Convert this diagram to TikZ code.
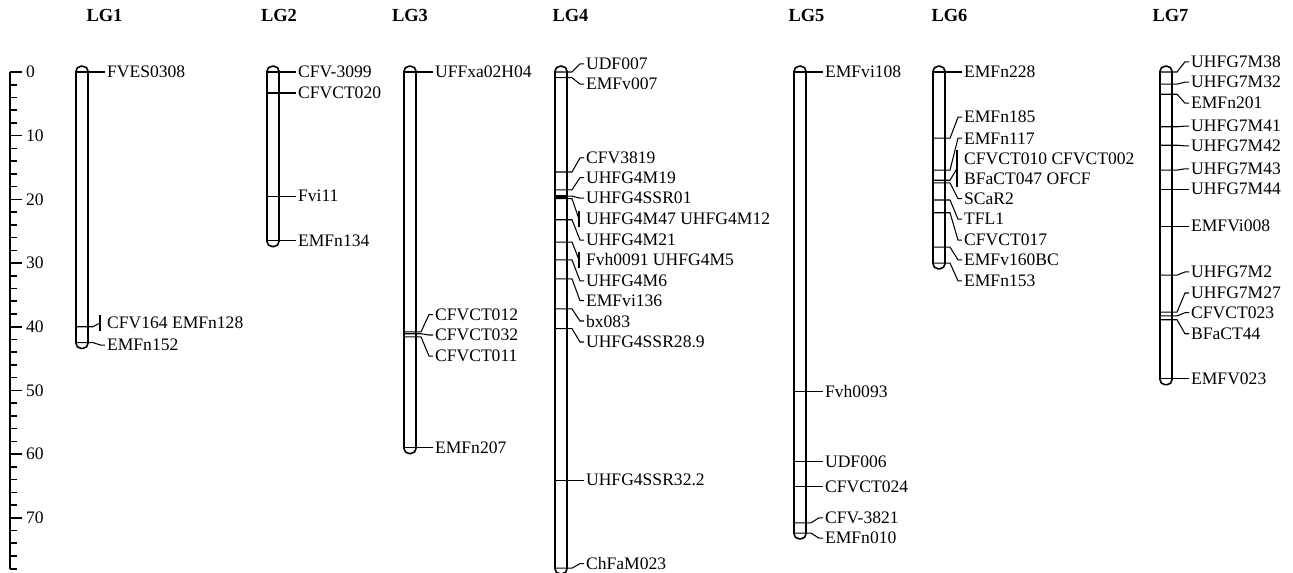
\documentclass[tikz,border=0pt]{standalone}
\usepackage{fontspec}
\setmainfont{Liberation Serif}
\tikzset{
  chrom/.style={line width=0.9pt, rounded corners=0.1cm},
  mline/.style={line width=0.6pt},
  mlabel/.style={anchor=west, inner sep=1pt, font=\fontsize{10}{11.6}\selectfont, align=left},
  lgtitle/.style={font=\bfseries\fontsize{10.5}{12}\selectfont},
  axis/.style={line width=0.9pt},
}
% #1 name, #2 left x, #3 length, #4 title x, #5 markers
\newcommand{\linkgroup}[5]{
  \node[lgtitle] (#1) at (#4,-8.95) {#1};
  \draw[chrom] (#2,-0.9) rectangle (#2+12,#3+0.9);
  \foreach \m/\p/\br/\txt [count=\i] in {#5} {
    \coordinate (#1-m\i) at (#2,\m);
    \node[mlabel] (#1-l\i) at (#2+29,\p) {\txt};
    \ifnum\br=1
      \draw[mline] (#1-m\i) -- ++(17,0) -- ([xshift=-0.1cm]#1-l\i.west);
      \draw[mline] ([xshift=-0.1cm]#1-l\i.north west) -- ([xshift=-0.1cm]#1-l\i.south west);
    \else
      \draw[mline] (#1-m\i) -- ++(17,0) -- ([xshift=-0.08cm]#1-l\i.west) -- (#1-l\i.west);
    \fi
  }
}
\begin{document}
\begin{tikzpicture}[x=0.02cm, y=-0.1274cm]
  \useasboundingbox (0,-11.303) rectangle (1293,78.65);
  % scale in cM
  \draw[axis] (10,78) -- (10,0);
  \foreach \y in {0,2,...,78} \draw[axis] (10,\y) -- (17,\y);
  \foreach \y in {0,10,...,70} {
    \draw[axis] (10,\y) -- (22,\y);
    \node[mlabel] (ax\y) at (24,\y) {\y};
  }
  \linkgroup{LG1}{76}{42.5}{104.5}{0/0/0/FVES0308, 40.0/39.4/1/CFV164 EMFn128, 42.5/42.9/0/EMFn152}
  \linkgroup{LG2}{267}{26.5}{279}{0/0/0/CFV-3099, 3.3/3.3/0/CFVCT020, 19.5/19.5/0/Fvi11, 26.5/26.5/0/EMFn134}
  \linkgroup{LG3}{404}{59.0}{410}{0/0/0/UFFxa02H04, 40.8/38.1/0/CFVCT012, 41.1/41.3/0/CFVCT032,
    41.6/44.6/0/CFVCT011, 59.0/59.0/0/EMFn207}
  \fill (555,19.3) rectangle (567,19.9);
  \linkgroup{LG4}{555}{77.9}{570.5}{0/-1.26/0/UDF007, 0.9/1.9/0/EMFv007, 15.7/13.5/0/CFV3819,
    18.5/16.6/0/UHFG4M19, 19.5/19.8/0/UHFG4SSR01, 19.9/23.1/1/UHFG4M47 UHFG4M12,
    23.2/26.4/0/UHFG4M21, 26.7/29.5/1/Fvh0091 UHFG4M5, 29.5/32.8/0/UHFG4M6,
    32.5/35.9/0/EMFvi136, 37.2/39.1/0/bx083, 40.3/42.4/0/UHFG4SSR28.9,
    64.1/64.1/0/UHFG4SSR32.2, 77.9/77.2/0/ChFaM023}
  \linkgroup{LG5}{794}{72.4}{806.5}{0/0/0/EMFvi108, 50.2/50.2/0/Fvh0093, 61.2/61.2/0/UDF006,
    65.1/65.1/0/CFVCT024, 70.8/70.0/0/CFV-3821, 72.4/73.2/0/EMFn010}
  \linkgroup{LG6}{933}{30.0}{949.5}{0/0/0/EMFn228, 10.4/7.1/0/EMFn185, 15.4/10.4/0/EMFn117,
    17.0/15.15/1/{CFVCT010 CFVCT002\\BFaCT047 OFCF}, 17.4/19.9/0/SCaR2, 20.1/23.1/0/TFL1,
    22.1/26.4/0/CFVCT017, 27.5/29.5/0/EMFv160BC, 30.0/32.8/0/EMFn153}
  \linkgroup{LG7}{1160}{48.2}{1170.5}{0/-1.6/0/UHFG7M38, 1.9/1.6/0/UHFG7M32, 3.5/4.9/0/EMFn201,
    8.6/8.5/0/UHFG7M41, 11.5/11.6/0/UHFG7M42, 15.4/15.2/0/UHFG7M43, 18.4/18.4/0/UHFG7M44,
    24.2/24.2/0/EMFVi008, 31.9/31.4/0/UHFG7M2, 37.7/34.7/0/UHFG7M27, 38.3/37.8/0/CFVCT023,
    38.9/41.1/0/BFaCT44, 48.2/48.2/0/EMFV023}
\end{tikzpicture}
\end{document}
